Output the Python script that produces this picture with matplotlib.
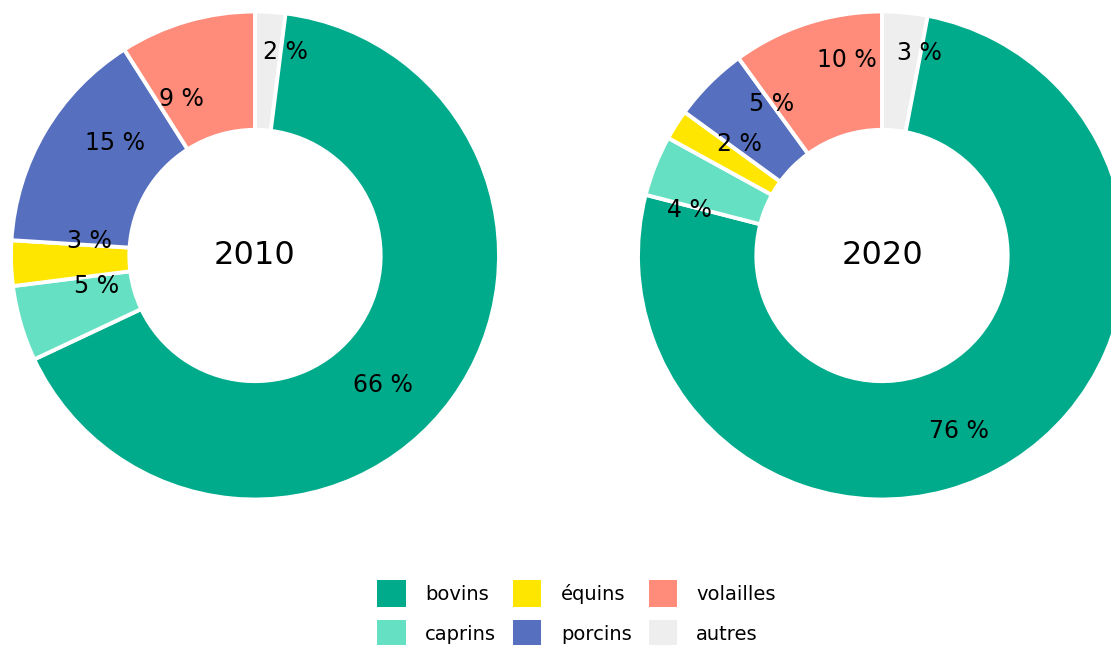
import numpy as np
import matplotlib
matplotlib.use("Agg")
import matplotlib.pyplot as plt
from matplotlib.patches import Patch

# Répartition du cheptel par espèce (en %)
categories = ["bovins", "caprins", "équins", "porcins", "volailles", "autres"]
years = ["2010", "2020"]
shares_2010 = [66, 5, 3, 15, 9, 2]
shares_2020 = [76, 4, 2, 5, 10, 3]

colors = {
    "bovins": "#00AB8C",
    "caprins": "#66E0C2",
    "équins": "#FFE600",
    "porcins": "#5670BF",
    "volailles": "#FF8C7A",
    "autres": "#EEEEEE",
}

# Drawing order around the ring (clockwise from 12 o'clock)
ring_order = ["autres", "bovins", "caprins", "équins", "porcins", "volailles"]

# Label placement: angular shift from wedge middle (deg) and radius (fraction)
label_layout = {
    "2010": {"autres": (-4.9, 0.843), "bovins": (-9.3, 0.748), "caprins": (-5.3, 0.661),
             "équins": (-6.8, 0.681), "porcins": (-8.2, 0.736), "volailles": (9.1, 0.709)},
    "2020": {"autres": (-5.1, 0.846), "bovins": (-8.6, 0.786), "caprins": (8.2, 0.813),
             "équins": (-5.6, 0.742), "porcins": (-8.9, 0.768), "volailles": (-7.7, 0.814)},
}

W, H = 1111, 645
fig = plt.figure(figsize=(W / 100, H / 100), dpi=100)

R_PX = 244
centers = [(255, 255.5), (882, 255.5)]


def donut(ax, year, shares):
    vals = dict(zip(categories, shares))
    ordered = [vals[c] for c in ring_order]
    wedges, _ = ax.pie(
        ordered,
        colors=[colors[c] for c in ring_order],
        startangle=90,
        counterclock=False,
        radius=1.0,
        wedgeprops=dict(width=0.485, edgecolor="white", linewidth=2.8),
    )
    for w, cat in zip(wedges, ring_order):
        mid = 0.5 * (w.theta1 + w.theta2)
        shift, rad = label_layout[year][cat]
        a = np.deg2rad(mid + shift)
        ax.text(rad * np.cos(a), rad * np.sin(a), f"{vals[cat]} %",
                ha="center", va="center", fontsize=17, color="black")
    ax.text(0, 0, year, ha="center", va="center", fontsize=23, color="black")
    ax.set_xlim(-1, 1)
    ax.set_ylim(-1, 1)
    ax.set_aspect("equal")
    ax.axis("off")


for (cx, cy), year, shares in zip(centers, years, [shares_2010, shares_2020]):
    left = (cx - R_PX) / W
    bottom = (H - cy - R_PX) / H
    ax = fig.add_axes([left, bottom, 2 * R_PX / W, 2 * R_PX / H])
    donut(ax, year, shares)

handles = [Patch(facecolor=colors[c], edgecolor="none", label=c) for c in categories]
fig.legend(
    handles=handles,
    loc="center",
    bbox_to_anchor=(0.519, 1 - 613.5 / H),
    ncol=3,
    frameon=False,
    fontsize=14,
    handlelength=1.45,
    handleheight=1.76,
    handletextpad=1.0,
    columnspacing=0.88,
    labelspacing=0.64,
    borderpad=0.0,
)

fig.savefig("out.png", dpi=100)
